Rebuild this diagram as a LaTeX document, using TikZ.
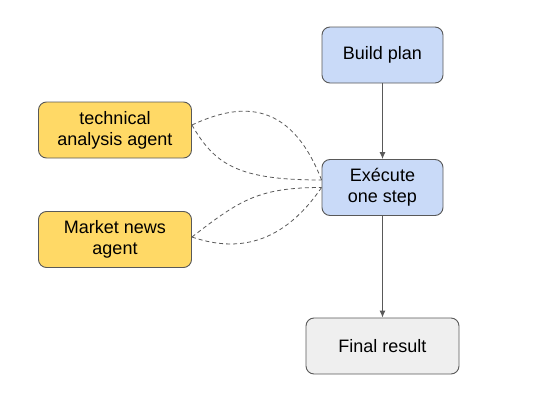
\documentclass[tikz,border=0pt]{standalone}
\usepackage{fontspec}
\setmainfont{Liberation Sans}
\usetikzlibrary{arrows.meta}
\definecolor{planblue}{HTML}{C9DAF8}
\definecolor{agentyellow}{HTML}{FFD966}
\definecolor{resultgray}{HTML}{EFEFEF}
\definecolor{edgegray}{HTML}{595959}
\tikzset{
  box/.style={draw=edgegray, line width=0.9pt, rounded corners=8pt, align=center,
    font=\fontsize{18}{21}\selectfont, inner sep=0pt},
  stepbox/.style={box, fill=planblue, minimum width=121pt, minimum height=56pt},
  agentbox/.style={box, fill=agentyellow, minimum width=153pt, minimum height=56pt},
  resultbox/.style={box, fill=resultgray, minimum width=153pt, minimum height=56pt},
  flow/.style={draw=edgegray, line width=0.9pt, -{Latex[length=7pt,width=6pt]}},
  call/.style={draw=edgegray, line width=0.8pt, dash pattern=on 4pt off 3pt},
}
\begin{document}
\begin{tikzpicture}[x=1pt, y=-1pt]
\useasboundingbox (0,0) rectangle (557,415);
\node[stepbox] (plan) at (382.5,55) {Build plan};
\node[stepbox] (exec) at (382.5,187.5) {Exécute\\one step};
\node[resultbox] (result) at (382.5,346) {Final result};
\node[agentbox] (tech) at (115,130) {technical\\analysis agent};
\node[agentbox] (news) at (115,239.5) {Market news\\agent};
% plan flow
\draw[flow] (plan) -- (exec);
\draw[flow] (exec) -- (result);
% agent calls
\draw[call] ([yshift=5pt]tech.east) .. controls +(43,-20) and +(-33,-85) .. ([yshift=7.5pt]exec.west);
\draw[call] ([yshift=5pt]tech.east) .. controls +(23,40) and +(-83,0) .. ([yshift=7.5pt]exec.west);
\draw[call] ([yshift=2.5pt]news.east) .. controls +(48,-37) and +(-63,0) .. (exec.west);
\draw[call] ([yshift=2.5pt]news.east) .. controls +(38,13) and +(-43,63) .. (exec.west);
\end{tikzpicture}
\end{document}
